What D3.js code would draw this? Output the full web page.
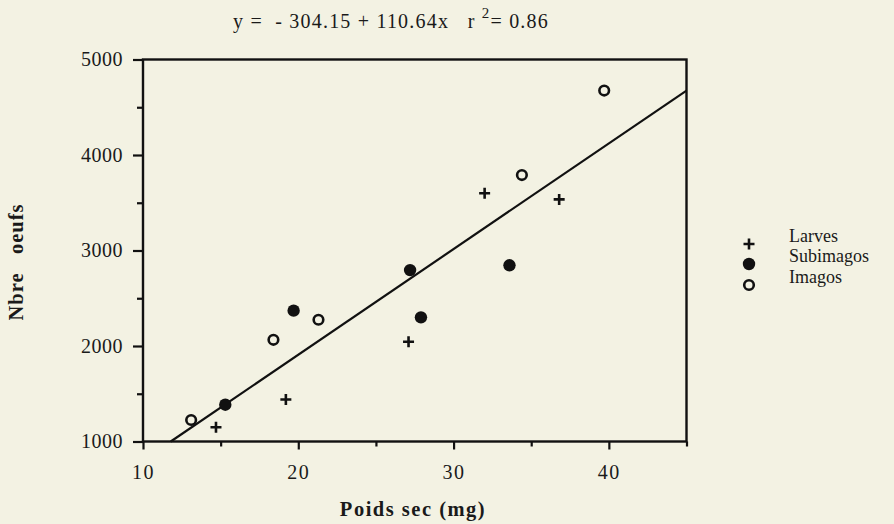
<!DOCTYPE html>
<html>
<head>
<meta charset="utf-8">
<script src="https://cdn.jsdelivr.net/npm/d3@7"></script>
<style>
  body { margin: 0; background: #f3f2e3; }
  svg { display: block; font-family: "Liberation Serif", "DejaVu Serif", serif; }
</style>
</head>
<body>
<div id="chart"></div>
<script>
// poids sec (mg) / nombre d'oeufs
const larvesX = [14.7, 19.2, 27.1, 32.0, 36.8];
const larvesY = [1150, 1440, 2045, 3600, 3535];
const subimagosX = [15.3, 19.7, 27.2, 27.9, 33.6];
const subimagosY = [1385, 2370, 2795, 2300, 2845];
const imagosX = [13.1, 18.4, 21.3, 34.4, 39.7];
const imagosY = [1225, 2065, 2275, 3790, 4675];

const xMajor = [10, 20, 30, 40];
const xMinor = [15, 25, 35, 45];
const yMajor = [1000, 2000, 3000, 4000, 5000];
const yMinor = [1500, 2500, 3500, 4500];

const intercept = -304.15, slope = 110.64;
const legendLabels = ["Larves", "Subimagos", "Imagos"];

const w = 894, h = 524;
const padLeft = 143, padRight = 686.5, padTop = 59.5, padBottom = 441.5;

const svg = d3.select("#chart").append("svg")
  .attr("width", w).attr("height", h);

svg.append("rect").attr("width", w).attr("height", h).attr("fill", "#f3f2e3");

const x = d3.scaleLinear().domain([10, 45]).range([padLeft, padRight]);
const y = d3.scaleLinear().domain([1000, 5000]).range([padBottom, padTop]);

// axes
const xAx = svg.append("g").attr("transform", "translate(0," + padBottom + ")")
  .call(d3.axisBottom(x).tickValues(xMajor).tickSize(8).tickPadding(15));
svg.append("g").attr("transform", "translate(0," + padBottom + ")")
  .call(d3.axisBottom(x).tickValues(xMinor).tickSize(5).tickFormat(""));
const yAx = svg.append("g").attr("transform", "translate(" + padLeft + ",0)")
  .call(d3.axisLeft(y).tickValues(yMajor).tickSize(10).tickPadding(10).tickFormat(d3.format("d")));
svg.append("g").attr("transform", "translate(" + padLeft + ",0)")
  .call(d3.axisLeft(y).tickValues(yMinor).tickSize(6).tickFormat(""));

svg.selectAll(".domain").remove();
svg.selectAll(".tick line").attr("stroke", "#111").attr("stroke-width", 2.2);
xAx.selectAll("text").attr("font-size", 20).attr("letter-spacing", 1.5)
  .attr("fill", "#1a1a1a").attr("font-family", "Liberation Serif");
yAx.selectAll("text").attr("font-size", 20).attr("letter-spacing", 0.5)
  .attr("fill", "#1a1a1a").attr("font-family", "Liberation Serif");

// frame
svg.append("rect")
  .attr("x", padLeft).attr("y", padTop)
  .attr("width", padRight - padLeft).attr("height", padBottom - padTop)
  .attr("fill", "none").attr("stroke", "#111").attr("stroke-width", 2.4);

// regression line
const x0 = (1000 - intercept) / slope;
svg.append("line")
  .attr("x1", x(x0)).attr("y1", y(intercept + slope * x0))
  .attr("x2", x(45)).attr("y2", y(intercept + slope * 45))
  .attr("stroke", "#111").attr("stroke-width", 2.2);

// markers
function plus(g, cx, cy) {
  g.append("path")
    .attr("d", `M${cx - 5.5},${cy}H${cx + 5.5}M${cx},${cy - 5.5}V${cy + 5.5}`)
    .attr("stroke", "#111").attr("stroke-width", 2.6);
}
function dot(g, cx, cy) {
  g.append("circle").attr("cx", cx).attr("cy", cy).attr("r", 6.2).attr("fill", "#111");
}
function ring(g, cx, cy) {
  g.append("circle").attr("cx", cx).attr("cy", cy).attr("r", 4.8)
    .attr("fill", "none").attr("stroke", "#111").attr("stroke-width", 2.6);
}

const pts = svg.append("g");
larvesX.forEach((v, i) => plus(pts, x(v), y(larvesY[i])));
subimagosX.forEach((v, i) => dot(pts, x(v), y(subimagosY[i])));
imagosX.forEach((v, i) => ring(pts, x(v), y(imagosY[i])));

// title
const title = svg.append("text").attr("x", 233).attr("y", 28)
  .attr("font-size", 20).attr("letter-spacing", 1.2).attr("fill", "#1a1a1a")
  .style("white-space", "pre");
title.append("tspan").text("y =  - 304.15 + 110.64x   r ");
title.append("tspan").attr("dy", -10).attr("font-size", 15).text("2");
title.append("tspan").attr("dy", 10).text("= 0.86");

// axis titles
svg.append("text").attr("x", 413).attr("y", 516)
  .attr("text-anchor", "middle").attr("font-weight", "bold").attr("font-size", 20.5)
  .attr("letter-spacing", 1.5).attr("fill", "#1a1a1a").text("Poids sec (mg)");
svg.append("text")
  .attr("transform", "translate(23,262) rotate(-90)")
  .attr("text-anchor", "middle").attr("font-weight", "bold").attr("font-size", 20.5)
  .attr("letter-spacing", 1).attr("fill", "#1a1a1a").style("white-space", "pre")
  .text("Nbre   oeufs");

// legend
const legY = [244, 264, 285];
const leg = svg.append("g");
plus(leg, 749, legY[0]);
dot(leg, 749, legY[1]);
ring(leg, 749, legY[2]);
leg.selectAll("text.lab").data(legendLabels).enter().append("text")
  .attr("class", "lab")
  .attr("x", 789).attr("y", (d, i) => legY[i] - 2)
  .attr("font-size", 18).attr("fill", "#1a1a1a")
  .text(d => d);
</script>
</body>
</html>
